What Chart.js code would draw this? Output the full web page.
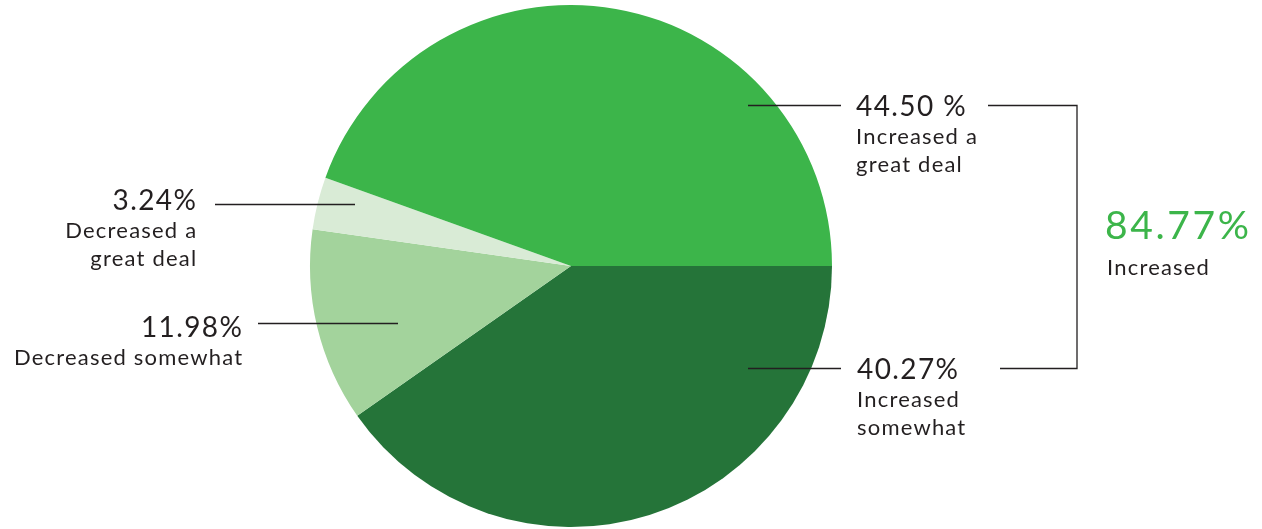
<!DOCTYPE html>
<html>
<head>
<meta charset="utf-8">
<script src="https://cdn.jsdelivr.net/npm/chart.js"></script>
<style>
  html, body { margin: 0; padding: 0; background: #fff; }
  #wrap { width: 1262px; height: 529px; position: relative; }
</style>
</head>
<body>
<div id="wrap"><canvas id="pieChart"></canvas></div>
<script>
// slices in clockwise order, starting at 3 o'clock
const categories = ['Increased somewhat', 'Decreased somewhat', 'Decreased a great deal', 'Increased a great deal'];
const values = [40.27, 11.98, 3.24, 44.50];
const valueLabels = ['40.27%', '11.98%', '3.24%', '44.50 %'];
const captionLines = [['Increased', 'somewhat'], ['Decreased somewhat'], ['Decreased a', 'great deal'], ['Increased a', 'great deal']];
const sliceColors = ['#257439', '#a3d39c', '#d9ebd6', '#3cb54a'];
const totalValue = '84.77%';
const totalLabel = 'Increased';

const FONT = 'Lato, "Noto Sans", sans-serif';
const TEXT = '#231f20';

// callout layout, offsets from the pie centre (px): leader line [x1, x2, y], text anchor x, value baseline
const callouts = [
  { line: [177, 270, 102], align: 'left', tx: 286, ty: 113 },
  { line: [-173, -313, 57], align: 'right', tx: -329, ty: 71 },
  { line: [-216, -356, -62], align: 'right', tx: -375, ty: -56 },
  { line: [177, 270, -161], align: 'left', tx: 285, ty: -150 }
];

const calloutPlugin = {
  id: 'callouts',
  afterDraw(chart) {
    const arc = chart.getDatasetMeta(0).data[0];
    const cx = arc.x, cy = arc.y;
    const c = chart.ctx;
    c.save();
    c.strokeStyle = TEXT;
    c.lineWidth = 1.3;
    c.textBaseline = 'alphabetic';
    callouts.forEach((co, i) => {
      const [x1, x2, dy] = co.line;
      c.beginPath();
      c.moveTo(cx + x1, cy + dy + 0.5);
      c.lineTo(cx + x2, cy + dy + 0.5);
      c.stroke();
      c.fillStyle = TEXT;
      c.textAlign = co.align;
      // right-aligned text carries a trailing letter gap; push it back
      const shift = co.align === 'right' ? 1.3 : 0;
      c.font = '28px ' + FONT;
      c.letterSpacing = '1.4px';
      c.fillText(valueLabels[i], cx + co.tx + shift, cy + co.ty);
      c.font = '22px ' + FONT;
      c.letterSpacing = '1.2px';
      captionLines[i].forEach((t, j) => {
        c.fillText(t, cx + co.tx + shift, cy + co.ty + 28 + j * 28);
      });
    });

    // bracket grouping the two "Increased" slices
    const top = cy + callouts[3].line[2] + 0.5;
    const bot = cy + callouts[0].line[2] + 0.5;
    const bx = cx + 506;
    c.beginPath();
    c.moveTo(cx + 417, top);
    c.lineTo(bx, top);
    c.lineTo(bx, bot);
    c.lineTo(cx + 429, bot);
    c.stroke();

    c.textAlign = 'left';
    c.fillStyle = '#3cb54a';
    c.font = '39px ' + FONT;
    c.letterSpacing = '2.6px';
    c.fillText(totalValue, cx + 534, cy - 27);
    c.fillStyle = TEXT;
    c.font = '22px ' + FONT;
    c.letterSpacing = '1.2px';
    c.fillText(totalLabel, cx + 536, cy + 9);
    c.restore();
  }
};

new Chart(document.getElementById('pieChart').getContext('2d'), {
  type: 'pie',
  data: {
    labels: categories,
    datasets: [{
      data: values,
      backgroundColor: sliceColors,
      borderWidth: 0
    }]
  },
  options: {
    responsive: true,
    maintainAspectRatio: false,
    animation: false,
    rotation: 90,
    layout: { padding: { top: 5, bottom: 2, left: 300, right: 420 } },
    plugins: { legend: { display: false }, tooltip: { enabled: false } }
  },
  plugins: [calloutPlugin]
});
</script>
</body>
</html>
